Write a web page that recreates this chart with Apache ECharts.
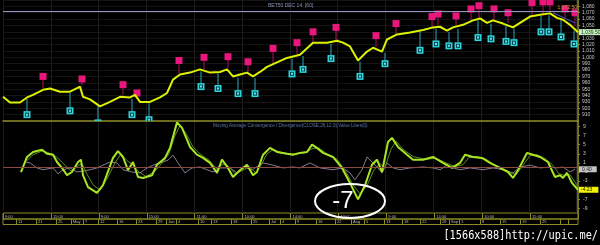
<!DOCTYPE html>
<html><head><meta charset="utf-8">
<script src="https://cdn.jsdelivr.net/npm/echarts@6/dist/echarts.min.js"></script>
<style>html,body{margin:0;padding:0;background:#000;}#c{width:600px;height:245px;}</style>
</head><body><div id="c"></div>
<script>
// ---- data (x = hourly bar number, 0..575) ----
const priceBars = [0,7,17,24,30,40,47,57,67,77,80,87,97,107,117,127,132,137,147,157,164,170,177,187,197,207,217,224,230,237,244,250,257,264,274,284,297,310,324,334,340,347,355,364,370,379,384,394,407,420,430,437,444,450,460,470,477,484,490,500,510,517,527,537,547,554,560,567,575];
const priceVals = [938,929,929,937,941,949,951,946,946,954,938,934,923,930,938,937,941,930,930,937,944,965,973,976,981,976,977,981,970,973,976,970,977,985,992,999,1004,1023,1023,1026,1023,1017,995,1009,1015,1009,1028,1036,1039,1043,1047,1048,1042,1047,1051,1058,1061,1054,1058,1053,1047,1054,1064,1067,1069,1062,1059,1051,1039.5];

const hiBars  = [40,79,120,134,176,201,225,245,270,294,310,333,373,393,429,435,453,468,476,491,505,529,540,547,562,572];
const hiMarks = [970,966,957,944,995,1000,1001,993,1014,1023,1040,1047,1034,1053,1064,1068,1065,1076,1081,1076,1070,1086,1087,1087,1076,1070];
const hiStem  = [952,956,941,943,974,981,983,977,990,1005,1024,1027,1016,1037,1048,1050,1048,1058,1062,1059,1054,1066,1068,1070,1061,1049];

const loBars  = [24,67,95,129,146,198,215,235,252,289,300,328,357,382,417,433,446,455,475,488,503,511,538,546,558,571];
const loMarks = [910,916,897,910,902,954,951,943,943,974,981,998,970,990,1011,1021,1018,1018,1031,1029,1025,1023,1040,1040,1032,1021];
const loStem  = [935,944,925,935,928,978,975,968,968,998,1002,1021,993,1007,1041,1045,1040,1045,1058,1053,1050,1045,1065,1066,1059,1042];

const refLevel = 1072.5;
const trendFrom = [550,1070];
const trendTo = [572,1054];

const macdBars = [18,24,30,39,44,50,54,59,64,69,75,78,80,85,94,100,110,115,120,125,130,135,140,149,154,162,167,174,179,187,194,200,207,214,219,225,230,237,244,250,254,260,267,274,284,290,297,304,309,314,320,330,339,347,355,362,369,374,379,385,389,395,404,410,420,430,440,449,457,462,470,479,487,497,505,510,515,524,530,537,545,552,557,560,564,569,575];
const macdVals = [-1.0,2.3,3.4,3.9,3.0,2.8,1.2,-0.1,-1.7,-1.0,1.2,1.7,-1.7,-4.3,-5.6,-3.9,2.1,3.6,2.3,-0.6,1.2,-2.1,-2.3,-1.7,0.6,2.1,4.3,9.9,8.7,4.5,2.8,2.1,1.0,-1.2,1.7,-0.1,-2.1,-0.6,0.6,-1.7,-1.0,2.8,4.3,3.4,3.0,2.8,3.2,3.4,5.0,4.3,3.2,2.3,-0.1,-3.4,-7.0,-3.9,0.6,1.7,-1.0,5.6,6.5,4.5,2.8,1.7,1.7,2.3,1.0,-0.1,1.0,2.8,2.3,2.1,1.0,-0.1,-1.0,-2.3,-0.6,3.2,2.8,2.3,1.2,-2.1,-1.7,-2.3,-1.2,-3.4,-4.9];

const sigBars = [24,30,39,44,50,56,62,68,74,79,84,90,97,104,112,118,124,130,136,143,152,160,166,172,177,183,190,198,206,214,220,226,232,240,246,253,258,264,270,280,292,302,310,316,324,334,343,350,357,364,371,377,382,388,393,400,410,422,433,443,452,460,466,474,483,491,500,508,513,519,527,534,541,549,556,562,567,572,575];
const sigVals = [1.5,2.8,3.6,3.3,2.9,1.8,0.5,-0.8,0.2,0.9,-1.5,-3.8,-5.0,-2.5,1.0,3.0,1.5,0.5,-1.0,-2.0,-0.8,1.2,3.0,7.0,9.2,7.5,4.5,2.8,1.6,-0.4,0.8,0.2,-1.4,-0.6,0.2,-1.2,0.5,3.0,3.9,3.2,2.9,3.2,4.2,4.2,3.0,1.8,-1.0,-3.8,-5.8,-4.0,-0.5,0.8,0.0,4.0,5.8,4.0,2.4,1.8,2.0,1.0,0.2,0.6,2.2,2.4,1.8,0.6,-0.3,-1.2,-1.6,0.2,2.6,2.8,2.1,0.7,-1.4,-1.8,-1.6,-3.2,-4.2];

const oscBars = [22,27,34,40,50,55,60,67,74,80,87,94,100,107,114,120,129,137,144,150,160,165,170,175,182,189,197,204,210,217,227,234,240,249,260,270,280,290,297,307,317,330,340,347,352,359,364,369,375,379,384,390,397,407,420,430,437,444,450,457,467,480,490,500,510,517,527,537,547,554,560,567,572];
const oscVals = [1.2,1.0,-0.1,-0.5,-0.1,-1.4,-0.5,-0.1,-1.0,-0.8,-0.5,-0.1,0.5,1.2,1.0,-0.5,-1.0,-1.2,-0.1,0.5,1.2,1.6,2.7,1.0,-1.2,-0.1,0.1,-0.5,-1.0,-0.1,-0.1,-1.2,0.1,-0.5,1.0,0.5,-0.1,0.1,-0.1,1.0,-0.1,-0.5,-0.1,-1.2,-2.7,-0.5,2.3,1.2,-0.1,-1.2,1.0,-0.1,-0.5,-0.1,0.1,-0.1,-0.5,0.5,-0.1,-0.5,-0.1,-0.5,-0.1,-0.5,-1.2,0.1,0.5,-0.1,0.1,-0.1,0.1,-1.0,-0.4];

const macdTicks = [-9,-7,-5,-3,-1,1,3,5,7,9];
const timeLabels = ['9:00','15:00','9:00','15:00','11:00','10:00','14:00','12:00','9:00','14:00','10:00','15:00'];
const dateBars = [13,33,53,68,80,95,114,133,153,163,173,195,208,228,248,266,277,292,313,332,348,361,381,399,417,437,446,456,477,497,517,537,557,565];
const dateLabels = ['11','21','25','May','7','12','16','23','29','Jun','4','10','13','18','25','Jul','4','9','16','22','Aug','5','13','18','22','28','Sep','1','8','15','19','25','',''];

const lastPriceLabel = '1,039.50';
const lastMacdLabel = '-4.23';
const lastOscLabel = '0.40';

// ---- build ----
const zip = (a, b) => a.map((x, i) => [x, b[i]]);
const zip3 = (a, b, c) => a.map((x, i) => [x, b[i], c[i]]);
const OLIVE = '#8c8c26';
const FONT = 'Liberation Sans';

function markerRender(kind) {
  return function (params, api) {
    const p = api.coord([api.value(0), api.value(1)]);
    const q = api.coord([api.value(0), api.value(2)]);
    const s = 7;
    const kids = [
      { type: 'line', shape: { x1: p[0], y1: p[1], x2: q[0], y2: q[1] },
        style: { stroke: kind === 'hi' ? '#b0105a' : '#2aa8b8', lineWidth: 1 } }
    ];
    if (kind === 'hi') {
      kids.push({ type: 'rect', shape: { x: p[0] - s / 2, y: p[1] - s / 2, width: s, height: s },
        style: { fill: '#e8177c' } });
    } else {
      kids.push({ type: 'rect', shape: { x: p[0] - s / 2, y: p[1] - s / 2, width: s, height: s },
        style: { fill: '#2cd4dc' } });
      kids.push({ type: 'rect', shape: { x: p[0] - 2, y: p[1] - 2, width: 4, height: 4 },
        style: { fill: '#0b4650' } });
      kids.push({ type: 'rect', shape: { x: p[0] - 1, y: p[1] - 1, width: 2, height: 2 },
        style: { fill: '#5ee8ee' } });
    }
    return { type: 'group', children: kids };
  };
}

const noZero = show => ({ show: show, onZero: false });

const chart = echarts.init(document.getElementById('c'), null, { renderer: 'canvas' });
chart.setOption({
  backgroundColor: '#000',
  animation: false,
  title: [
    { text: 'BET50 DEC 14  [60]', left: 268, top: 3, padding: 0,
      textStyle: { color: '#8492b4', fontSize: 5, fontWeight: 'normal', fontFamily: FONT } },
    { text: 'Moving Average Convergence / Divergence(CLOSE,26,12,9),Value Lines(0)', left: 213, top: 123, padding: 0,
      textStyle: { color: '#5674a8', fontSize: 4.6, fontWeight: 'normal', fontFamily: FONT } }
  ],
  grid: [
    { left: 3, top: 0, width: 575, height: 121 },
    { left: 3, top: 121, width: 575, height: 92 },
    { left: 3, top: 213, width: 575, height: 6, show: true, borderColor: OLIVE, borderWidth: 1, backgroundColor: 'transparent' },
    { left: 3, top: 219, width: 575, height: 5.5, show: true, borderColor: OLIVE, borderWidth: 1, backgroundColor: 'transparent' }
  ],
  xAxis: [
    { type: 'value', gridIndex: 0, min: 0, max: 575, interval: 47.8,
      axisLine: noZero(false), axisTick: { show: false }, axisLabel: { show: false },
      splitLine: { show: true, lineStyle: { color: '#1c1c1c', width: 1 } } },
    { type: 'value', gridIndex: 1, min: 0, max: 575, interval: 47.8, position: 'top',
      axisLine: { show: true, onZero: false, lineStyle: { color: OLIVE, width: 1.5 } }, axisTick: { show: false }, axisLabel: { show: false },
      splitLine: { show: true, lineStyle: { color: '#1c1c1c', width: 1 } } },
    { type: 'value', gridIndex: 2, min: 0, max: 12, interval: 1,
      axisLine: noZero(false), axisTick: { show: false },
      axisLabel: { show: true, inside: true, margin: 0.5, align: 'left', padding: [0, 0, 0, 2], color: '#bbbbbb', fontSize: 4, fontFamily: FONT,
        showMaxLabel: false, formatter: v => timeLabels[v] || '' },
      splitLine: { show: true, lineStyle: { color: OLIVE, width: 1 } } },
    { type: 'value', gridIndex: 3, min: 0, max: 575,
      axisLine: noZero(false),
      axisTick: { show: true, inside: true, length: 5.5, customValues: dateBars, lineStyle: { color: OLIVE, width: 1 } },
      axisLabel: { show: true, inside: true, margin: 0.5, align: 'left', padding: [0, 0, 0, 2], color: '#bbbbbb', fontSize: 4, fontFamily: FONT,
        customValues: dateBars, formatter: v => { const i = dateBars.indexOf(v); return i >= 0 ? dateLabels[i] : ''; } },
      splitLine: { show: false } }
  ],
  yAxis: [
    { type: 'value', gridIndex: 0, min: 900, max: 1090, interval: 10, position: 'right',
      axisLine: { show: true, onZero: false, lineStyle: { color: OLIVE, width: 1.5 } },
      axisTick: { show: true, length: 2, lineStyle: { color: OLIVE } },
      axisLabel: { show: true, margin: 4, color: '#c8c8c8', fontSize: 5, fontFamily: FONT, showMinLabel: false, showMaxLabel: false },
      splitLine: { show: true, lineStyle: { color: '#141414', width: 1 } } },
    { type: 'value', gridIndex: 1, min: -10, max: 10.2, position: 'right',
      axisLine: { show: true, onZero: false, lineStyle: { color: OLIVE, width: 1.5 } },
      axisTick: { show: true, length: 2, customValues: macdTicks, lineStyle: { color: OLIVE } },
      axisLabel: { show: true, margin: 5, color: '#c8c8c8', fontSize: 5, fontFamily: FONT, customValues: macdTicks },
      splitLine: { show: false } },
    { type: 'value', gridIndex: 2, show: false, min: 0, max: 1, axisLine: noZero(false), splitLine: { show: false } },
    { type: 'value', gridIndex: 3, show: false, min: 0, max: 1, axisLine: noZero(false), splitLine: { show: false } }
  ],
  series: [
    { type: 'custom', name: 'highs', xAxisIndex: 0, yAxisIndex: 0, clip: true, z: 3,
      renderItem: markerRender('hi'), data: zip3(hiBars, hiMarks, hiStem) },
    { type: 'custom', name: 'lows', xAxisIndex: 0, yAxisIndex: 0, clip: true, z: 3,
      renderItem: markerRender('lo'), data: zip3(loBars, loMarks, loStem) },
    { type: 'line', name: 'price', xAxisIndex: 0, yAxisIndex: 0, showSymbol: false, z: 4,
      lineStyle: { color: '#dcf200', width: 2 }, data: zip(priceBars, priceVals),
      endLabel: { show: true, formatter: () => lastPriceLabel, distance: 1, color: '#0c3a0c', backgroundColor: '#c8f0c4',
        padding: [1, 2, 0, 2], fontSize: 5, fontFamily: FONT },
      markLine: { silent: true, symbol: 'none', animation: false,
        data: [
          { yAxis: refLevel, lineStyle: { color: '#9494c4', width: 1, type: 'solid' },
            label: { show: true, position: 'insideEndTop', formatter: '1,072.50', color: '#e0943c', fontSize: 5, fontFamily: FONT, distance: 1 } },
          [{ coord: trendFrom, lineStyle: { color: '#4a5ec8', width: 1, type: 'solid' }, label: { show: false } }, { coord: trendTo }]
        ] } },
    { type: 'line', name: 'osc', xAxisIndex: 1, yAxisIndex: 1, showSymbol: false, z: 2,
      lineStyle: { color: '#8a7890', width: 1 }, data: zip(oscBars, oscVals),
      endLabel: { show: true, formatter: () => lastOscLabel, distance: 4, color: '#202020', backgroundColor: '#c4c4c4',
        padding: [1, 5, 0, 3], fontSize: 5, fontFamily: FONT },
      markLine: { silent: true, symbol: 'none', animation: false, label: { show: false },
        data: [{ yAxis: 0, lineStyle: { color: '#8a4a40', width: 1, type: 'solid' } }] } },
    { type: 'line', name: 'signal', xAxisIndex: 1, yAxisIndex: 1, showSymbol: false, z: 3,
      lineStyle: { color: '#5e8c1c', width: 1 }, data: zip(sigBars, sigVals) },
    { type: 'line', name: 'macd', xAxisIndex: 1, yAxisIndex: 1, showSymbol: false, z: 4,
      lineStyle: { color: '#a8e624', width: 2 }, data: zip(macdBars, macdVals),
      endLabel: { show: true, formatter: () => lastMacdLabel, distance: 1, color: '#202000', backgroundColor: '#f2f200',
        padding: [1, 6, 0, 2], fontSize: 5, fontFamily: FONT } }
  ],
  graphic: [
    { type: 'ellipse', shape: { cx: 350, cy: 201, rx: 35, ry: 17 }, style: { fill: null, stroke: '#ffffff', lineWidth: 2 }, z: 100 },
    { type: 'text', x: 343, y: 201, z: 101, style: { text: '-7', fill: '#ffffff', font: '24px "Liberation Sans"', align: 'center', verticalAlign: 'middle' } },
    { type: 'text', x: 598, y: 236, scaleX: 0.79, z: 101, style: { text: '[1566x588]http://upic.me/', fill: '#ffffff', font: '13px "DejaVu Sans Mono"', align: 'right', verticalAlign: 'middle' } }
  ]
});
</script>
</body></html>
